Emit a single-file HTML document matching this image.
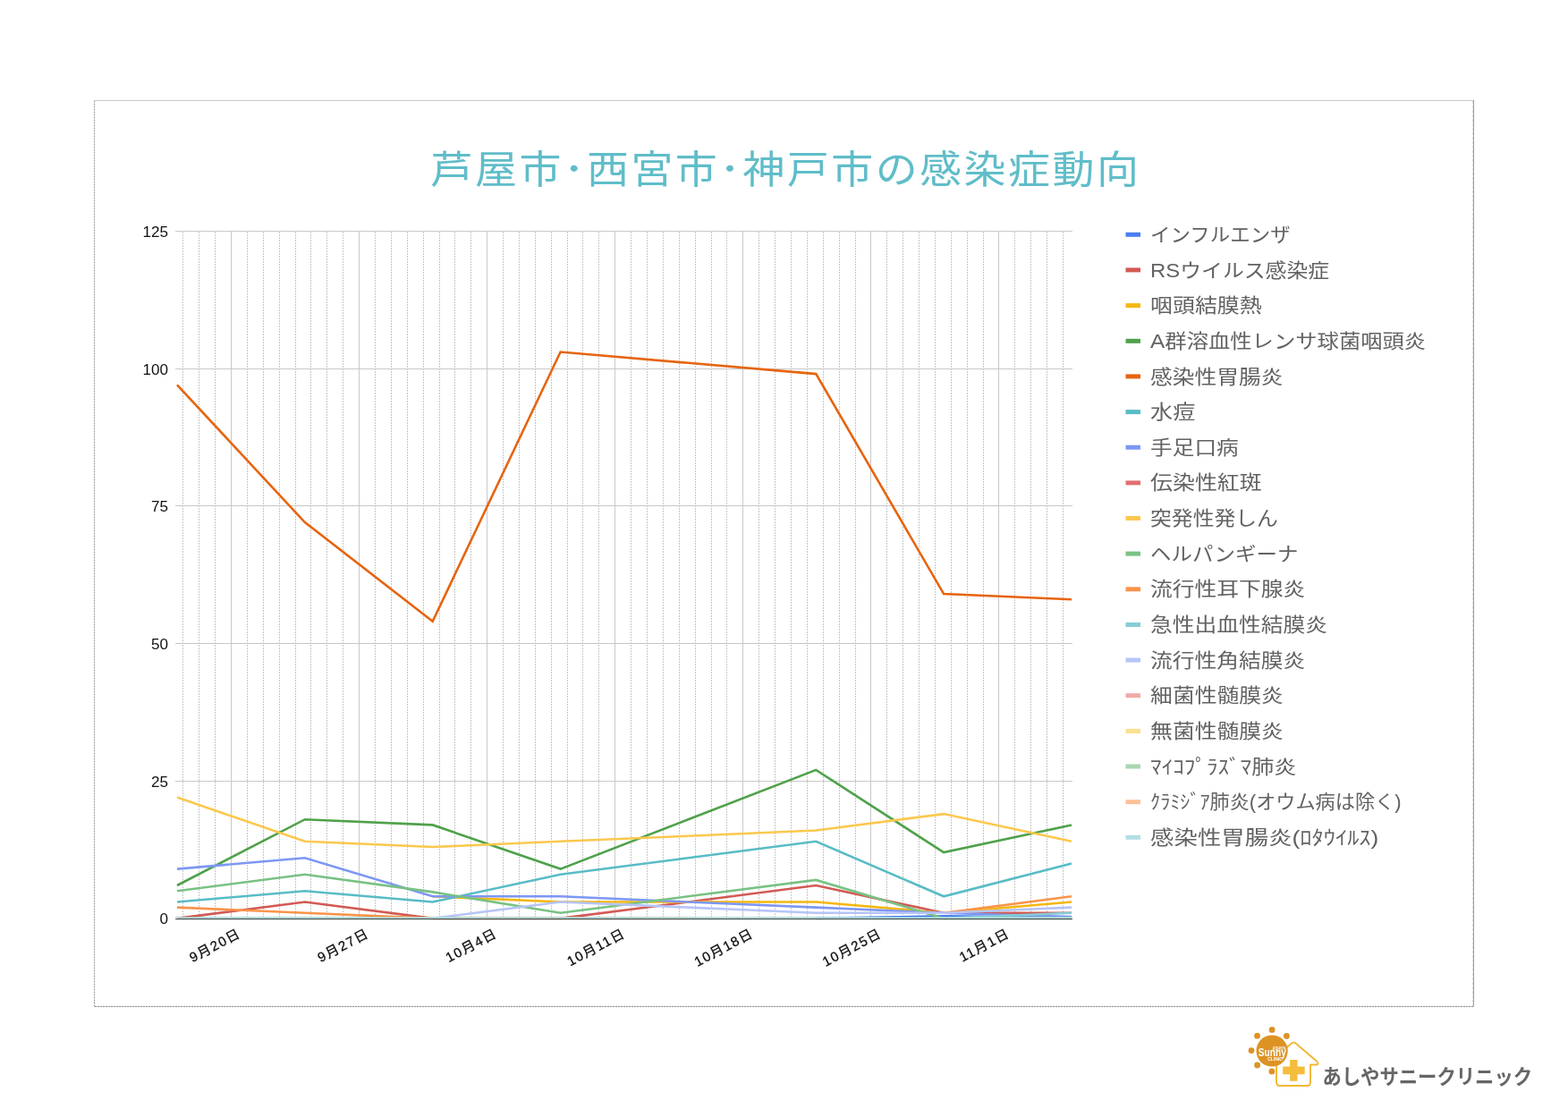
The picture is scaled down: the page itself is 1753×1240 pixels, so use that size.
<!DOCTYPE html><html><head><meta charset="utf-8"><title>芦屋市・西宮市・神戸市の感染症動向</title><style>
html,body{margin:0;padding:0;background:#fff;width:1753px;height:1240px;overflow:hidden}
svg{display:block}
.lg{font-family:"Liberation Sans","Noto Sans CJK JP",sans-serif;font-size:23px;fill:#626262}
.ax{font-family:"Liberation Sans","Noto Sans CJK JP",sans-serif;font-size:16px;fill:#111}
.dt{font-family:"Liberation Sans","Noto Sans CJK JP",sans-serif;font-size:15px;fill:#111;stroke:#111;stroke-width:0.3px;letter-spacing:1.5px}
.ttl{font-family:"Liberation Sans","Noto Sans CJK JP",sans-serif;font-size:43.5px;fill:#60bdc9;letter-spacing:2.3px}
.logo{font-family:"Liberation Sans","Noto Sans CJK JP",sans-serif;font-size:23px;font-weight:700;fill:#666}
</style></head><body>
<svg width="1753" height="1240" viewBox="0 0 1753 1240">
<rect width="1753" height="1240" fill="#fff"/>
<line x1="105" y1="112.5" x2="1648" y2="112.5" stroke="#c8c8c8" stroke-width="1"/>
<line x1="1647.5" y1="112" x2="1647.5" y2="1126" stroke="#9c9c9c" stroke-width="1"/>
<line x1="1646.5" y1="113" x2="1646.5" y2="1125" stroke="#dedede" stroke-width="1" stroke-dasharray="3 2"/>
<line x1="105.5" y1="113" x2="105.5" y2="1126" stroke="#d6d6d6" stroke-width="1"/>
<line x1="105.5" y1="113" x2="105.5" y2="1126" stroke="#8e8e8e" stroke-width="1" stroke-dasharray="1 2"/>
<line x1="105" y1="1125.5" x2="1648" y2="1125.5" stroke="#d6d6d6" stroke-width="1"/>
<line x1="106" y1="1125.5" x2="1647" y2="1125.5" stroke="#8e8e8e" stroke-width="1" stroke-dasharray="2 1"/>
<text class="ttl" x="0" y="0" text-anchor="middle" transform="translate(878.5,205.1) scale(1.08,1)">芦屋市･西宮市･神戸市の感染症動向</text>
<line x1="204.5" y1="259" x2="204.5" y2="1025" stroke="#c6c6c6" stroke-width="1" stroke-dasharray="2 1"/><line x1="222.5" y1="259" x2="222.5" y2="1025" stroke="#c6c6c6" stroke-width="1" stroke-dasharray="2 1"/><line x1="240.5" y1="259" x2="240.5" y2="1025" stroke="#c6c6c6" stroke-width="1" stroke-dasharray="2 1"/><line x1="258.5" y1="258" x2="258.5" y2="1025" stroke="#c8c8c8" stroke-width="1"/><line x1="276.5" y1="259" x2="276.5" y2="1025" stroke="#c6c6c6" stroke-width="1" stroke-dasharray="2 1"/><line x1="294.5" y1="259" x2="294.5" y2="1025" stroke="#c6c6c6" stroke-width="1" stroke-dasharray="2 1"/><line x1="312.5" y1="259" x2="312.5" y2="1025" stroke="#c6c6c6" stroke-width="1" stroke-dasharray="2 1"/><line x1="330.5" y1="259" x2="330.5" y2="1025" stroke="#c6c6c6" stroke-width="1" stroke-dasharray="2 1"/><line x1="347.5" y1="259" x2="347.5" y2="1025" stroke="#c6c6c6" stroke-width="1" stroke-dasharray="2 1"/><line x1="365.5" y1="259" x2="365.5" y2="1025" stroke="#c6c6c6" stroke-width="1" stroke-dasharray="2 1"/><line x1="383.5" y1="259" x2="383.5" y2="1025" stroke="#c6c6c6" stroke-width="1" stroke-dasharray="2 1"/><line x1="401.5" y1="258" x2="401.5" y2="1025" stroke="#c8c8c8" stroke-width="1"/><line x1="419.5" y1="259" x2="419.5" y2="1025" stroke="#c6c6c6" stroke-width="1" stroke-dasharray="2 1"/><line x1="437.5" y1="259" x2="437.5" y2="1025" stroke="#c6c6c6" stroke-width="1" stroke-dasharray="2 1"/><line x1="455.5" y1="259" x2="455.5" y2="1025" stroke="#c6c6c6" stroke-width="1" stroke-dasharray="2 1"/><line x1="473.5" y1="259" x2="473.5" y2="1025" stroke="#c6c6c6" stroke-width="1" stroke-dasharray="2 1"/><line x1="491.5" y1="259" x2="491.5" y2="1025" stroke="#c6c6c6" stroke-width="1" stroke-dasharray="2 1"/><line x1="508.5" y1="259" x2="508.5" y2="1025" stroke="#c6c6c6" stroke-width="1" stroke-dasharray="2 1"/><line x1="526.5" y1="259" x2="526.5" y2="1025" stroke="#c6c6c6" stroke-width="1" stroke-dasharray="2 1"/><line x1="544.5" y1="258" x2="544.5" y2="1025" stroke="#c8c8c8" stroke-width="1"/><line x1="562.5" y1="259" x2="562.5" y2="1025" stroke="#c6c6c6" stroke-width="1" stroke-dasharray="2 1"/><line x1="580.5" y1="259" x2="580.5" y2="1025" stroke="#c6c6c6" stroke-width="1" stroke-dasharray="2 1"/><line x1="598.5" y1="259" x2="598.5" y2="1025" stroke="#c6c6c6" stroke-width="1" stroke-dasharray="2 1"/><line x1="616.5" y1="259" x2="616.5" y2="1025" stroke="#c6c6c6" stroke-width="1" stroke-dasharray="2 1"/><line x1="634.5" y1="259" x2="634.5" y2="1025" stroke="#c6c6c6" stroke-width="1" stroke-dasharray="2 1"/><line x1="651.5" y1="259" x2="651.5" y2="1025" stroke="#c6c6c6" stroke-width="1" stroke-dasharray="2 1"/><line x1="669.5" y1="259" x2="669.5" y2="1025" stroke="#c6c6c6" stroke-width="1" stroke-dasharray="2 1"/><line x1="687.5" y1="258" x2="687.5" y2="1025" stroke="#c8c8c8" stroke-width="1"/><line x1="705.5" y1="259" x2="705.5" y2="1025" stroke="#c6c6c6" stroke-width="1" stroke-dasharray="2 1"/><line x1="723.5" y1="259" x2="723.5" y2="1025" stroke="#c6c6c6" stroke-width="1" stroke-dasharray="2 1"/><line x1="741.5" y1="259" x2="741.5" y2="1025" stroke="#c6c6c6" stroke-width="1" stroke-dasharray="2 1"/><line x1="759.5" y1="259" x2="759.5" y2="1025" stroke="#c6c6c6" stroke-width="1" stroke-dasharray="2 1"/><line x1="777.5" y1="259" x2="777.5" y2="1025" stroke="#c6c6c6" stroke-width="1" stroke-dasharray="2 1"/><line x1="795.5" y1="259" x2="795.5" y2="1025" stroke="#c6c6c6" stroke-width="1" stroke-dasharray="2 1"/><line x1="812.5" y1="259" x2="812.5" y2="1025" stroke="#c6c6c6" stroke-width="1" stroke-dasharray="2 1"/><line x1="830.5" y1="258" x2="830.5" y2="1025" stroke="#c8c8c8" stroke-width="1"/><line x1="848.5" y1="259" x2="848.5" y2="1025" stroke="#c6c6c6" stroke-width="1" stroke-dasharray="2 1"/><line x1="866.5" y1="259" x2="866.5" y2="1025" stroke="#c6c6c6" stroke-width="1" stroke-dasharray="2 1"/><line x1="884.5" y1="259" x2="884.5" y2="1025" stroke="#c6c6c6" stroke-width="1" stroke-dasharray="2 1"/><line x1="902.5" y1="259" x2="902.5" y2="1025" stroke="#c6c6c6" stroke-width="1" stroke-dasharray="2 1"/><line x1="920.5" y1="259" x2="920.5" y2="1025" stroke="#c6c6c6" stroke-width="1" stroke-dasharray="2 1"/><line x1="938.5" y1="259" x2="938.5" y2="1025" stroke="#c6c6c6" stroke-width="1" stroke-dasharray="2 1"/><line x1="956.5" y1="259" x2="956.5" y2="1025" stroke="#c6c6c6" stroke-width="1" stroke-dasharray="2 1"/><line x1="973.5" y1="258" x2="973.5" y2="1025" stroke="#c8c8c8" stroke-width="1"/><line x1="991.5" y1="259" x2="991.5" y2="1025" stroke="#c6c6c6" stroke-width="1" stroke-dasharray="2 1"/><line x1="1009.5" y1="259" x2="1009.5" y2="1025" stroke="#c6c6c6" stroke-width="1" stroke-dasharray="2 1"/><line x1="1027.5" y1="259" x2="1027.5" y2="1025" stroke="#c6c6c6" stroke-width="1" stroke-dasharray="2 1"/><line x1="1045.5" y1="259" x2="1045.5" y2="1025" stroke="#c6c6c6" stroke-width="1" stroke-dasharray="2 1"/><line x1="1063.5" y1="259" x2="1063.5" y2="1025" stroke="#c6c6c6" stroke-width="1" stroke-dasharray="2 1"/><line x1="1081.5" y1="259" x2="1081.5" y2="1025" stroke="#c6c6c6" stroke-width="1" stroke-dasharray="2 1"/><line x1="1099.5" y1="259" x2="1099.5" y2="1025" stroke="#c6c6c6" stroke-width="1" stroke-dasharray="2 1"/><line x1="1116.5" y1="258" x2="1116.5" y2="1025" stroke="#c8c8c8" stroke-width="1"/><line x1="1134.5" y1="259" x2="1134.5" y2="1025" stroke="#c6c6c6" stroke-width="1" stroke-dasharray="2 1"/><line x1="1152.5" y1="259" x2="1152.5" y2="1025" stroke="#c6c6c6" stroke-width="1" stroke-dasharray="2 1"/><line x1="1170.5" y1="259" x2="1170.5" y2="1025" stroke="#c6c6c6" stroke-width="1" stroke-dasharray="2 1"/><line x1="1188.5" y1="259" x2="1188.5" y2="1025" stroke="#c6c6c6" stroke-width="1" stroke-dasharray="2 1"/>
<line x1="196" y1="258.5" x2="1199" y2="258.5" stroke="#c8c8c8" stroke-width="1"/>
<line x1="196" y1="412.5" x2="1199" y2="412.5" stroke="#c8c8c8" stroke-width="1"/>
<line x1="196" y1="565.5" x2="1199" y2="565.5" stroke="#c8c8c8" stroke-width="1"/>
<line x1="196" y1="719.5" x2="1199" y2="719.5" stroke="#c8c8c8" stroke-width="1"/>
<line x1="196" y1="873.5" x2="1199" y2="873.5" stroke="#c8c8c8" stroke-width="1"/>
<line x1="196" y1="1025.5" x2="1199" y2="1025.5" stroke="#c8c8c8" stroke-width="1"/>
<text class="ax" x="0" y="0" text-anchor="end" transform="translate(188,1032.6) scale(1.07,1)">0</text>
<text class="ax" x="0" y="0" text-anchor="end" transform="translate(188,879.6) scale(1.07,1)">25</text>
<text class="ax" x="0" y="0" text-anchor="end" transform="translate(188,725.6) scale(1.07,1)">50</text>
<text class="ax" x="0" y="0" text-anchor="end" transform="translate(188,571.6) scale(1.07,1)">75</text>
<text class="ax" x="0" y="0" text-anchor="end" transform="translate(188,418.6) scale(1.07,1)">100</text>
<text class="ax" x="0" y="0" text-anchor="end" transform="translate(188,264.6) scale(1.07,1)">125</text>
<polyline fill="none" stroke="#4a7ff2" stroke-width="2.6" stroke-linejoin="miter" stroke-miterlimit="6" stroke-linecap="butt" points="912.3,1026.9 1055.1,1024.4 1198.0,1025.7"/>
<polyline fill="none" stroke="#d25a54" stroke-width="2.6" stroke-linejoin="miter" stroke-miterlimit="6" stroke-linecap="butt" points="198.0,1026.9 340.9,1008.5 483.7,1026.9 626.6,1026.9 769.4,1008.5 912.3,990.0 1055.1,1020.8 1198.0,1020.8"/>
<polyline fill="none" stroke="#f5b710" stroke-width="2.6" stroke-linejoin="miter" stroke-miterlimit="6" stroke-linecap="butt" points="483.7,1002.3 626.6,1008.5 769.4,1008.5 912.3,1008.5 1055.1,1020.8 1198.0,1008.5"/>
<polyline fill="none" stroke="#4fa14a" stroke-width="2.6" stroke-linejoin="miter" stroke-miterlimit="6" stroke-linecap="butt" points="198.0,990.0 340.9,916.2 483.7,922.4 626.6,971.6 769.4,916.2 912.3,860.9 1055.1,953.1 1198.0,922.4"/>
<polyline fill="none" stroke="#e6640f" stroke-width="2.6" stroke-linejoin="miter" stroke-miterlimit="6" stroke-linecap="butt" points="198.0,430.4 340.9,584.1 483.7,694.8 626.6,393.5 769.4,405.8 912.3,418.1 1055.1,664.1 1198.0,670.2"/>
<polyline fill="none" stroke="#58bcc6" stroke-width="2.6" stroke-linejoin="miter" stroke-miterlimit="6" stroke-linecap="butt" points="198.0,1008.5 340.9,996.2 483.7,1008.5 626.6,977.7 769.4,959.3 912.3,940.8 1055.1,1002.3 1198.0,965.4"/>
<polyline fill="none" stroke="#7d97f4" stroke-width="2.6" stroke-linejoin="miter" stroke-miterlimit="6" stroke-linecap="butt" points="198.0,971.6 340.9,959.3 483.7,1002.3 626.6,1002.3 769.4,1008.5 912.3,1014.6 1055.1,1020.8 1198.0,1025.1"/>
<polyline fill="none" stroke="#fbc84e" stroke-width="2.6" stroke-linejoin="miter" stroke-miterlimit="6" stroke-linecap="butt" points="198.0,891.6 340.9,940.8 483.7,947.0 626.6,940.8 769.4,934.7 912.3,928.5 1055.1,910.1 1198.0,940.8"/>
<polyline fill="none" stroke="#78c283" stroke-width="2.6" stroke-linejoin="miter" stroke-miterlimit="6" stroke-linecap="butt" points="198.0,996.2 340.9,977.7 483.7,997.4 626.6,1020.8 769.4,1002.3 912.3,983.9 1055.1,1026.9 1198.0,1026.9"/>
<polyline fill="none" stroke="#f9944a" stroke-width="2.6" stroke-linejoin="miter" stroke-miterlimit="6" stroke-linecap="butt" points="198.0,1014.6 340.9,1020.8 483.7,1026.9 626.6,1026.9 769.4,1026.9"/>
<polyline fill="none" stroke="#f9944a" stroke-width="2.6" stroke-linejoin="miter" stroke-miterlimit="6" stroke-linecap="butt" points="1055.1,1020.8 1198.0,1002.3"/>
<polyline fill="none" stroke="#86cdd5" stroke-width="2.6" stroke-linejoin="miter" stroke-miterlimit="6" stroke-linecap="butt" points="1055.1,1026.9 1198.0,1020.8"/>
<polyline fill="none" stroke="#b6c4f8" stroke-width="2.6" stroke-linejoin="miter" stroke-miterlimit="6" stroke-linecap="butt" points="483.7,1026.9 626.6,1008.5 769.4,1014.6 912.3,1020.8 1055.1,1020.8 1198.0,1014.6"/>
<polyline fill="none" stroke="#a8d6b0" stroke-width="2.6" stroke-linejoin="miter" stroke-miterlimit="6" stroke-linecap="butt" points="198.0,1026.9 340.9,1026.9 483.7,1026.9 626.6,1026.9 769.4,1026.9 912.3,1026.9 1055.1,1026.9 1198.0,1026.9"/>
<polyline fill="none" stroke="#b2dfe4" stroke-width="2.6" stroke-linejoin="miter" stroke-miterlimit="6" stroke-linecap="butt" points="198.0,1026.9 340.9,1026.9 483.7,1026.9 626.6,1026.9 769.4,1026.9 912.3,1026.9 1055.1,1026.9 1198.0,1026.9"/>
<line x1="196" y1="1027.5" x2="1199" y2="1027.5" stroke="#4a4a4a" stroke-width="1"/>
<text class="dt" text-anchor="end" transform="translate(270.4,1047.0) rotate(-28)">9月20日</text>
<text class="dt" text-anchor="end" transform="translate(413.7,1047.0) rotate(-28)">9月27日</text>
<text class="dt" text-anchor="end" transform="translate(557.0,1047.0) rotate(-28)">10月4日</text>
<text class="dt" text-anchor="end" transform="translate(700.3,1047.0) rotate(-28)">10月11日</text>
<text class="dt" text-anchor="end" transform="translate(843.6,1047.0) rotate(-28)">10月18日</text>
<text class="dt" text-anchor="end" transform="translate(986.9,1047.0) rotate(-28)">10月25日</text>
<text class="dt" text-anchor="end" transform="translate(1130.2,1047.0) rotate(-28)">11月1日</text>
<rect x="1258.5" y="259.8" width="16.5" height="5" fill="#4a7ff2"/>
<text class="lg" x="1286.1" y="8.3" textLength="156.5" lengthAdjust="spacingAndGlyphs" transform="translate(0,262.30) scale(1,0.92)">インフルエンザ</text>
<rect x="1258.5" y="299.4" width="16.5" height="5" fill="#d25a54"/>
<text class="lg" x="1286.1" y="8.3" textLength="200.0" lengthAdjust="spacingAndGlyphs" transform="translate(0,301.95) scale(1,0.92)">RSウイルス感染症</text>
<rect x="1258.5" y="339.1" width="16.5" height="5" fill="#f5b710"/>
<text class="lg" x="1286.1" y="8.3" textLength="124.6" lengthAdjust="spacingAndGlyphs" transform="translate(0,341.60) scale(1,0.92)">咽頭結膜熱</text>
<rect x="1258.5" y="378.8" width="16.5" height="5" fill="#4fa14a"/>
<text class="lg" x="1286.1" y="8.3" textLength="308.1" lengthAdjust="spacingAndGlyphs" transform="translate(0,381.25) scale(1,0.92)">A群溶血性レンサ球菌咽頭炎</text>
<rect x="1258.5" y="418.4" width="16.5" height="5" fill="#e6640f"/>
<text class="lg" x="1286.1" y="8.3" textLength="148.3" lengthAdjust="spacingAndGlyphs" transform="translate(0,420.90) scale(1,0.92)">感染性胃腸炎</text>
<rect x="1258.5" y="458.1" width="16.5" height="5" fill="#58bcc6"/>
<text class="lg" x="1286.1" y="8.3" textLength="50.1" lengthAdjust="spacingAndGlyphs" transform="translate(0,460.55) scale(1,0.92)">水痘</text>
<rect x="1258.5" y="497.7" width="16.5" height="5" fill="#7d97f4"/>
<text class="lg" x="1286.1" y="8.3" textLength="98.7" lengthAdjust="spacingAndGlyphs" transform="translate(0,500.20) scale(1,0.92)">手足口病</text>
<rect x="1258.5" y="537.4" width="16.5" height="5" fill="#e07070"/>
<text class="lg" x="1286.1" y="8.3" textLength="124.6" lengthAdjust="spacingAndGlyphs" transform="translate(0,539.85) scale(1,0.92)">伝染性紅斑</text>
<rect x="1258.5" y="577.0" width="16.5" height="5" fill="#fbc84e"/>
<text class="lg" x="1286.1" y="8.3" textLength="142.7" lengthAdjust="spacingAndGlyphs" transform="translate(0,579.50) scale(1,0.92)">突発性発しん</text>
<rect x="1258.5" y="616.6" width="16.5" height="5" fill="#78c283"/>
<text class="lg" x="1286.1" y="8.3" textLength="165.3" lengthAdjust="spacingAndGlyphs" transform="translate(0,619.15) scale(1,0.92)">ヘルパンギーナ</text>
<rect x="1258.5" y="656.3" width="16.5" height="5" fill="#f9944a"/>
<text class="lg" x="1286.1" y="8.3" textLength="173.2" lengthAdjust="spacingAndGlyphs" transform="translate(0,658.80) scale(1,0.92)">流行性耳下腺炎</text>
<rect x="1258.5" y="696.0" width="16.5" height="5" fill="#86cdd5"/>
<text class="lg" x="1286.1" y="8.3" textLength="198.0" lengthAdjust="spacingAndGlyphs" transform="translate(0,698.45) scale(1,0.92)">急性出血性結膜炎</text>
<rect x="1258.5" y="735.6" width="16.5" height="5" fill="#b6c4f8"/>
<text class="lg" x="1286.1" y="8.3" textLength="173.0" lengthAdjust="spacingAndGlyphs" transform="translate(0,738.10) scale(1,0.92)">流行性角結膜炎</text>
<rect x="1258.5" y="775.2" width="16.5" height="5" fill="#f2aaa6"/>
<text class="lg" x="1286.1" y="8.3" textLength="148.8" lengthAdjust="spacingAndGlyphs" transform="translate(0,777.75) scale(1,0.92)">細菌性髄膜炎</text>
<rect x="1258.5" y="814.9" width="16.5" height="5" fill="#fbe08e"/>
<text class="lg" x="1286.1" y="8.3" textLength="148.8" lengthAdjust="spacingAndGlyphs" transform="translate(0,817.40) scale(1,0.92)">無菌性髄膜炎</text>
<rect x="1258.5" y="854.5" width="16.5" height="5" fill="#a8d6b0"/>
<text class="lg" x="1286.1" y="8.3" textLength="163.3" lengthAdjust="spacingAndGlyphs" transform="translate(0,857.05) scale(1,0.92)">ﾏｲｺﾌﾟﾗｽﾞﾏ肺炎</text>
<rect x="1258.5" y="894.2" width="16.5" height="5" fill="#fcc097"/>
<text class="lg" x="1286.1" y="8.3" textLength="280.5" lengthAdjust="spacingAndGlyphs" transform="translate(0,896.70) scale(1,0.92)">ｸﾗﾐｼﾞｱ肺炎(オウム病は除く)</text>
<rect x="1258.5" y="933.8" width="16.5" height="5" fill="#b2dfe4"/>
<text class="lg" x="1286.1" y="8.3" textLength="255.3" lengthAdjust="spacingAndGlyphs" transform="translate(0,936.35) scale(1,0.92)">感染性胃腸炎(ﾛﾀｳｲﾙｽ)</text>
<g>
<circle cx="1422.1" cy="1151.4" r="3.4" fill="#dc9324"/>
<circle cx="1405.6" cy="1158.2" r="3.4" fill="#dc9324"/>
<circle cx="1438.4" cy="1158.4" r="3.4" fill="#dc9324"/>
<circle cx="1399.0" cy="1174.6" r="3.4" fill="#dc9324"/>
<circle cx="1405.6" cy="1191.0" r="3.4" fill="#dc9324"/>
<circle cx="1421.9" cy="1197.9" r="3.4" fill="#dc9324"/>
<path d="M1427,1190 L1427,1210 Q1427,1214 1431,1214 L1461,1214 Q1465,1214 1465,1210 L1465,1190.5 L1471.5,1190.5 Q1475,1190 1472.5,1187 L1448.5,1166.5 Q1446.3,1164.8 1444,1166.5 L1438,1171.5" fill="none" stroke="#f2b733" stroke-width="1.9" stroke-linejoin="round"/>
<path d="M1442.1,1184.9 h8.4 v7.6 h8.2 v8.8 h-8.2 v7.5 h-8.4 v-7.5 h-7.9 v-8.8 h7.9 z" fill="#f4bd3c"/>
<circle cx="1422.1" cy="1175" r="17.6" fill="#dc9324"/>
<text x="1406.8" y="1181.4" font-family="Liberation Sans,sans-serif" font-size="13.4" font-weight="700" fill="#fff" textLength="31" lengthAdjust="spacingAndGlyphs">Sunny</text>
<text x="1422.6" y="1174.4" font-family="Liberation Sans,sans-serif" font-size="4.8" font-weight="700" fill="#fff" textLength="15" lengthAdjust="spacingAndGlyphs">ASHIYA</text>
<text x="1417.2" y="1185.8" font-family="Liberation Sans,sans-serif" font-size="4.8" font-weight="700" fill="#fff" textLength="16.8" lengthAdjust="spacingAndGlyphs">CLINIC</text>
</g>
<text class="logo" x="1478.6" y="1212.2" textLength="234.5" lengthAdjust="spacingAndGlyphs">あしやサニークリニック</text>
</svg></body></html>
